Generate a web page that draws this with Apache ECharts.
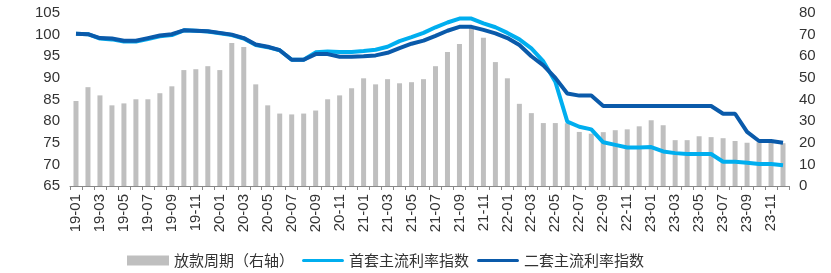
<!DOCTYPE html>
<html><head><meta charset="utf-8">
<script src="https://cdn.jsdelivr.net/npm/echarts@6/dist/echarts.min.js"></script>
<style>html,body{margin:0;padding:0;background:#fff}#c{width:831px;height:273px}</style>
</head><body><div id="c"></div>
<script>
var categories = [];
var years = ['19','20','21','22','23'];
for (var yi = 0; yi < years.length; yi++) {
  for (var m = 1; m <= 12; m++) categories.push(years[yi] + '-' + (m < 10 ? '0' + m : '' + m));
}
var loanCycle = [39.3,45.7,41.9,37.3,38.2,40.1,40.1,42.9,46.1,53.6,54.0,55.4,
  53.6,66.1,64.3,47.0,37.3,33.5,33.1,33.5,34.9,40.1,41.9,45.2,
  49.8,47.0,49.4,47.5,48.0,49.4,55.4,62.0,65.7,73.1,68.5,57.3,
  49.8,38.0,33.7,29.1,29.1,29.0,25.0,24.2,24.9,25.8,26.2,27.6,
  30.4,28.1,21.2,21.2,23.0,22.6,22.1,20.8,20.0,20.2,20.0,19.8];
var firstHome = [100.2,100.1,99.1,98.9,98.4,98.4,99.0,99.6,99.9,101.0,100.9,100.7,
  100.3,99.9,99.1,97.6,97.1,96.4,94.2,94.2,95.9,96.1,96.0,96.0,
  96.2,96.5,97.2,98.5,99.4,100.4,101.7,102.8,103.7,103.7,102.6,101.7,
  100.4,98.9,96.8,93.8,89.1,79.9,78.7,78.1,75.1,74.5,73.9,73.9,
  74.0,73.0,72.6,72.4,72.4,72.4,70.6,70.6,70.4,70.1,70.1,69.8];
var secondHome = [100.2,100.1,99.2,99.1,98.6,98.6,99.2,99.8,100.1,101.0,100.9,100.8,
  100.4,100.0,99.2,97.7,97.2,96.4,94.2,94.2,95.5,95.5,94.9,94.9,
  95.0,95.2,95.8,96.9,97.9,98.6,99.7,100.9,101.8,101.8,101.1,100.3,
  99.2,97.6,95.0,92.9,90.0,86.4,85.9,85.9,83.5,83.5,83.5,83.5,
  83.5,83.5,83.5,83.5,83.5,83.5,81.7,81.7,77.5,75.4,75.4,75.0];
var leftTicks = {min: 65, max: 105, interval: 5};
var rightTicks = {min: 0, max: 80, interval: 10};
var names = ['放款周期（右轴）', '首套主流利率指数', '二套主流利率指数'];

var font = 'Liberation Sans, Arial, sans-serif';
var lineIcon = 'path://M0,0L0.01,0L0,0.01Z M1.6,3.4L40.4,3.4A1.6,1.6,0,0,1,40.4,6.6L1.6,6.6A1.6,1.6,0,0,1,1.6,3.4Z M42,10L41.99,10L42,9.99Z';
var chart = echarts.init(document.getElementById('c'), null, {renderer: 'canvas'});
chart.setOption({
  animation: false,
  textStyle: {fontFamily: font},
  grid: {left: 70, right: 42, top: 13, bottom: 87, containLabel: false},
  legend: {
    left: 122, top: 248, itemGap: 8, itemWidth: 42, itemHeight: 10,
    textStyle: {fontSize: 15, color: '#333', fontFamily: 'Noto Sans CJK SC'},
    data: [
      {name: names[0], icon: 'rect'},
      {name: names[1], icon: lineIcon},
      {name: names[2], icon: lineIcon}
    ]
  },
  xAxis: {
    type: 'category', data: categories, boundaryGap: true,
    axisLine: {lineStyle: {color: '#888', width: 1}},
    axisTick: {show: true, interval: 0, length: 4, lineStyle: {color: '#888'}},
    axisLabel: {interval: 1, rotate: 90, margin: 8, fontSize: 15, color: '#333', fontFamily: font}
  },
  yAxis: [
    {type: 'value', min: leftTicks.min, max: leftTicks.max, interval: leftTicks.interval,
     axisLine: {show: false}, axisTick: {show: false}, splitLine: {show: false},
     axisLabel: {fontSize: 15, color: '#333', margin: 10, fontFamily: font}},
    {type: 'value', min: rightTicks.min, max: rightTicks.max, interval: rightTicks.interval, position: 'right',
     axisLine: {show: false}, axisTick: {show: false}, splitLine: {show: false},
     axisLabel: {fontSize: 15, color: '#333', margin: 10, fontFamily: font}}
  ],
  series: [
    {name: names[0], type: 'bar', yAxisIndex: 1, data: loanCycle, barWidth: 5,
     itemStyle: {color: '#BFBFBF'}},
    {name: names[1], type: 'line', yAxisIndex: 0, data: firstHome, symbol: 'none',
     lineStyle: {color: '#00AEEF', width: 4}, itemStyle: {color: '#00AEEF'}},
    {name: names[2], type: 'line', yAxisIndex: 0, data: secondHome, symbol: 'none',
     lineStyle: {color: '#0A5AAA', width: 4}, itemStyle: {color: '#0A5AAA'}}
  ]
});
</script></body></html>
